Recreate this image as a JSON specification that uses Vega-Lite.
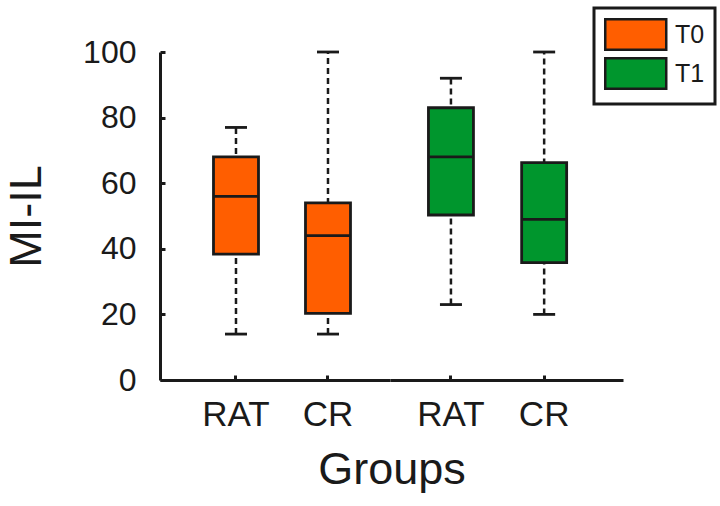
{
  "$schema": "https://vega.github.io/schema/vega-lite/v6.json",
  "autosize": {"type": "pad"},
  "padding": {"left": 4, "top": 6, "right": 5, "bottom": 5},
  "background": "white",
  "spacing": 0,
  "bounds": "flush",
  "data": {
    "values": [
      {"Group": "RAT", "Time": "T0", "min": 14, "q1": 38.4, "median": 56, "q3": 68, "max": 77},
      {"Group": "CR", "Time": "T0", "min": 14, "q1": 20.3, "median": 44, "q3": 54, "max": 100},
      {"Group": "RAT", "Time": "T1", "min": 23, "q1": 50.3, "median": 68, "q3": 83, "max": 92},
      {"Group": "CR", "Time": "T1", "min": 20, "q1": 35.8, "median": 49, "q3": 66.3, "max": 100}
    ]
  },
  "hconcat": [
    {
      "width": 230,
      "height": 328,
      "transform": [{"filter": "datum.Time === 'T0'"}],
      "encoding": {
        "x": {
          "field": "Group", "type": "nominal", "sort": ["RAT", "CR"],
          "scale": {"paddingInner": 0.5, "paddingOuter": 0.5, "align": 0.576},
          "axis": {"title": "Groups", "titleX": 231.5, "titleAlign": "center", "titleFontSize": 45, "titleFontWeight": "normal", "titlePadding": 15, "labelAngle": 0, "labelFontSize": 35, "labelPadding": 22, "tickSize": -5, "tickWidth": 3, "domainWidth": 3}
        }
      },
      "layer": [
        {
          "mark": {"type": "rule", "strokeDash": [6, 4], "strokeWidth": 2.5, "color": "#1a1a1a"},
          "encoding": {
            "y": {"field": "min", "type": "quantitative", "scale": {"domain": [0, 100], "nice": false},
              "axis": {"values": [0, 20, 40, 60, 80, 100], "title": "MI-IL", "titleFontSize": 45, "titleFontWeight": "normal", "titlePadding": 33, "labelFontSize": 32, "labelPadding": 29, "tickSize": -5, "tickWidth": 3, "domainWidth": 3, "grid": false}},
            "y2": {"field": "max"}
          }
        },
        {
          "mark": {"type": "bar", "width": 45, "stroke": "#1a1a1a", "strokeWidth": 2.8, "opacity": 1},
          "encoding": {
            "y": {"field": "q1", "type": "quantitative"},
            "y2": {"field": "q3"},
            "color": {"field": "Time", "type": "nominal", "scale": {"domain": ["T0", "T1"], "range": ["#ff5e00", "#00962d"]},
              "legend": {"title": null, "orient": "none", "legendX": 434, "legendY": -44, "symbolType": "M-1,-1H3V1H-1Z", "symbolSize": 930, "symbolStrokeColor": "#1a1a1a", "symbolStrokeWidth": 2.5, "symbolOpacity": 1, "labelFontSize": 25, "labelOffset": 38, "strokeColor": "#1a1a1a", "padding": 10, "rowPadding": -2, "encode": {"legend": {"update": {"strokeWidth": {"value": 3}}}}}}
          }
        },
        {
          "mark": {"type": "tick", "size": 45, "thickness": 2.8, "color": "#1a1a1a", "opacity": 1},
          "encoding": {"y": {"field": "median", "type": "quantitative"}}
        },
        {
          "mark": {"type": "tick", "size": 22, "thickness": 2.8, "color": "#1a1a1a", "opacity": 1},
          "encoding": {"y": {"field": "min", "type": "quantitative"}}
        },
        {
          "mark": {"type": "tick", "size": 22, "thickness": 2.8, "color": "#1a1a1a", "opacity": 1},
          "encoding": {"y": {"field": "max", "type": "quantitative"}}
        }
      ]
    },
    {
      "width": 233,
      "height": 328,
      "transform": [{"filter": "datum.Time === 'T1'"}],
      "encoding": {
        "x": {
          "field": "Group", "type": "nominal", "sort": ["RAT", "CR"],
          "scale": {"paddingInner": 0.5, "paddingOuter": 0.5, "align": 0.404},
          "axis": {"title": null, "labelAngle": 0, "labelFontSize": 35, "labelPadding": 22, "tickSize": -5, "tickWidth": 3, "domainWidth": 3}
        }
      },
      "layer": [
        {
          "mark": {"type": "rule", "strokeDash": [6, 4], "strokeWidth": 2.5, "color": "#1a1a1a"},
          "encoding": {
            "y": {"field": "min", "type": "quantitative", "scale": {"domain": [0, 100], "nice": false}, "axis": null},
            "y2": {"field": "max"}
          }
        },
        {
          "mark": {"type": "bar", "width": 45, "stroke": "#1a1a1a", "strokeWidth": 2.8, "opacity": 1},
          "encoding": {
            "y": {"field": "q1", "type": "quantitative"},
            "y2": {"field": "q3"},
            "color": {"field": "Time", "type": "nominal", "scale": {"domain": ["T0", "T1"], "range": ["#ff5e00", "#00962d"]},
              "legend": {"title": null, "orient": "none", "legendX": 434, "legendY": -44, "symbolType": "M-1,-1H3V1H-1Z", "symbolSize": 930, "symbolStrokeColor": "#1a1a1a", "symbolStrokeWidth": 2.5, "symbolOpacity": 1, "labelFontSize": 25, "labelOffset": 38, "strokeColor": "#1a1a1a", "padding": 10, "rowPadding": -2, "encode": {"legend": {"update": {"strokeWidth": {"value": 3}}}}}}
          }
        },
        {
          "mark": {"type": "tick", "size": 45, "thickness": 2.8, "color": "#1a1a1a", "opacity": 1},
          "encoding": {"y": {"field": "median", "type": "quantitative"}}
        },
        {
          "mark": {"type": "tick", "size": 22, "thickness": 2.8, "color": "#1a1a1a", "opacity": 1},
          "encoding": {"y": {"field": "min", "type": "quantitative"}}
        },
        {
          "mark": {"type": "tick", "size": 22, "thickness": 2.8, "color": "#1a1a1a", "opacity": 1},
          "encoding": {"y": {"field": "max", "type": "quantitative"}}
        }
      ]
    }
  ],
  "config": {
    "font": "Liberation Sans",
    "view": {"stroke": null},
    "axis": {"domainColor": "#1a1a1a", "tickColor": "#1a1a1a", "labelColor": "#1a1a1a", "titleColor": "#1a1a1a", "grid": false, "labelFont": "Liberation Sans", "titleFont": "Liberation Sans"},
    "legend": {"labelFont": "Liberation Sans", "labelColor": "#1a1a1a"}
  }
}
